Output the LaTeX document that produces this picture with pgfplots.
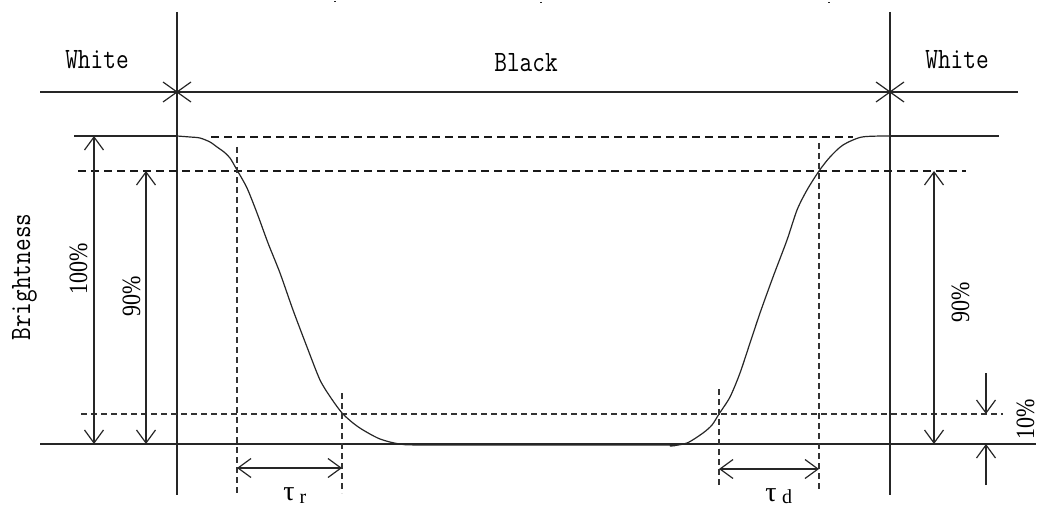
\documentclass[border=0pt]{standalone}
\usepackage{fontspec}
\setmainfont{Liberation Serif}
\usepackage{graphicx}
\usepackage{pgfplots}
\pgfplotsset{compat=1.18}
\usetikzlibrary{arrows.meta}

% one axis unit = one pixel of the 1046x507 reference (y grows downward)
\newcommand{\lbl}[1]{{\ttfamily\fontsize{12.3}{14}\selectfont\scalebox{1}[1.2]{#1}}}
\newcommand{\pct}[1]{{\fontsize{11}{13}\selectfont\scalebox{1}[1.2]{#1}}}

\begin{document}
\begin{tikzpicture}[
  ln/.style={black!85, line width=0.6pt},
  dshb/.style={black!90, line width=0.85pt, dash pattern=on 4pt off 2.5pt},
  dsht/.style={black!80, line width=0.55pt, dash pattern=on 3pt off 2pt},
  barb/.tip={Straight Barb[length=6.5pt,width=9.5pt]},
]
\begin{axis}[
  width=523pt, height=253.5pt, scale only axis,
  xmin=0, xmax=1046, ymin=0, ymax=507, y dir=reverse,
  hide axis, clip=false,
]
% frame lines
\addplot[ln] coordinates {(40,92) (1018,92)};
\addplot[ln] coordinates {(177,12) (177,495)};
\addplot[ln] coordinates {(890,12) (890,495)};
\addplot[ln] coordinates {(40,444) (1036,444)};
% crosses on the top line
\addplot[ln] coordinates {(163,82) (191,102)};
\addplot[ln] coordinates {(163,102) (191,82)};
\addplot[ln] coordinates {(876,82) (904,102)};
\addplot[ln] coordinates {(876,102) (904,82)};
% brightness levels
\addplot[ln] coordinates {(74,136) (177,136)};
\addplot[ln] coordinates {(890,136) (999,136)};
\addplot[dshb] coordinates {(211,137) (853,137)};
\addplot[dshb] coordinates {(78,171) (966,171)};
\addplot[dsht] coordinates {(81,414) (1003,414)};
% response curve
\addplot[ln, smooth, tension=0.45] coordinates {
(177,136) (190,137) (200,138) (210,142) (217,147) (224,152) (230,158)
(237,170) (247,188) (257,213) (268,243) (280,273) (293,310) (307,347)
(320,380) (331,398) (342,413) (353,423) (363,430) (380,439) (400,444)
(430,445) (660,445) (670,446) (687,443) (703,433) (712,425) (719,414)
(730,397) (740,373) (750,343) (760,313) (773,277) (787,240) (797,210)
(807,190) (819,171) (830,157) (843,145) (862,137) (890,136)
};
% time markers
\addplot[dsht, line width=0.65pt] coordinates {(237,147) (237,496)};
\addplot[dsht, line width=0.65pt] coordinates {(342,393) (342,493)};
\addplot[dsht, line width=0.65pt] coordinates {(719,389) (719,488)};
\addplot[dsht, line width=0.65pt] coordinates {(819,143) (819,492)};
% dimension arrows
\addplot[ln, barb-barb] coordinates {(237,468) (342,468)};
\addplot[ln, barb-barb] coordinates {(719,469) (819,469)};
\addplot[ln, barb-barb] coordinates {(94,136) (94,444)};
\addplot[ln, barb-barb] coordinates {(146,171) (146,444)};
\addplot[ln, barb-barb] coordinates {(934,171) (934,444)};
\addplot[ln, -barb] coordinates {(986,373) (986,414)};
\addplot[ln, -barb] coordinates {(986,485) (986,444)};
% stray dots at the top edge
\addplot[ln, line width=0.8pt] coordinates {(335,1) (335,2.5)};
\addplot[ln, line width=0.8pt] coordinates {(541,2) (541,3.5)};
\addplot[ln, line width=0.8pt] coordinates {(829,2) (829,3.5)};
% texts
\node[anchor=base] at (axis cs:97,69) {\lbl{White}};
\node[anchor=base] at (axis cs:526,72) {\lbl{Black}};
\node[anchor=base] at (axis cs:957,69) {\lbl{White}};
\node[anchor=base, rotate=90] at (axis cs:30,277) {\lbl{Brightness}};
\node[anchor=base, rotate=90] at (axis cs:87,269) {\pct{100\%}};
\node[anchor=base, rotate=90] at (axis cs:140,296) {\pct{90\%}};
\node[anchor=base, rotate=90] at (axis cs:969,302) {\pct{90\%}};
\node[anchor=base, rotate=90] at (axis cs:1034,419) {\pct{10\%}};
\node[anchor=base, inner sep=0pt] at (axis cs:289,500) {\fontsize{14}{16}\selectfont τ};
\node[anchor=base, inner sep=0pt] at (axis cs:303,503) {\fontsize{10}{12}\selectfont r};
\node[anchor=base, inner sep=0pt] at (axis cs:771,501) {\fontsize{14}{16}\selectfont τ};
\node[anchor=base, inner sep=0pt] at (axis cs:787,503) {\fontsize{10}{12}\selectfont d};
\end{axis}
\pgfresetboundingbox
\path[use as bounding box] (current axis.south west) rectangle (current axis.north east);
\end{tikzpicture}
\end{document}
